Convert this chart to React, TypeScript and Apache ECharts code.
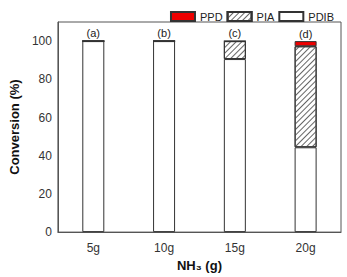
import React, { useEffect, useRef } from "react";
import * as echarts from "echarts";

const categories = ["5g", "10g", "15g", "20g"];
const pdib = [100, 100, 90.6, 44.4];
const pia = [0, 0, 9.4, 52.9];
const ppd = [0, 0, 0, 2.7];
const letters = ["(a)", "(b)", "(c)", "(d)"];

export default function App() {
  const ref = useRef<HTMLDivElement>(null);
  useEffect(() => {
    document.body.style.margin = "0";
    const chart = echarts.init(ref.current!, null, { renderer: "svg" });
    const font = "Liberation Sans, Arial, sans-serif";
    const hatch = {
      symbol: "rect",
      symbolSize: 1,
      dashArrayX: [1, 0],
      dashArrayY: [1, 3],
      rotation: -Math.PI / 4,
      color: "#666",
      backgroundColor: "#fff",
    };
    chart.setOption({
      animation: false,
      textStyle: { fontFamily: font },
      legend: {
        data: ["PPD", "PIA", "PDIB"],
        icon: "rect",
        right: 8,
        top: 6,
        itemWidth: 24,
        itemHeight: 9,
        itemGap: 4,
        textStyle: { fontSize: 11, color: "#222", fontFamily: font },
      },
      grid: {
        left: 44,
        right: 6,
        top: 22,
        bottom: 38,
        show: true,
        borderColor: "#555",
        borderWidth: 1,
      },
      xAxis: {
        type: "category",
        data: categories,
        name: "NH\u2083 (g)",
        nameLocation: "middle",
        nameGap: 24,
        nameTextStyle: { fontWeight: "bold", fontSize: 13, color: "#111", fontFamily: font },
        axisLine: { lineStyle: { color: "#555" } },
        axisTick: { inside: true, length: 3, lineStyle: { color: "#555" } },
        axisLabel: { fontSize: 12, color: "#333", margin: 10 },
      },
      yAxis: [
        {
          type: "value",
          min: 0,
          max: 110,
          interval: 20,
          name: "Conversion (%)",
          nameLocation: "middle",
          nameGap: 34,
          nameTextStyle: { fontWeight: "bold", fontSize: 13, color: "#111", fontFamily: font },
          splitLine: { show: false },
          axisLine: { show: true, lineStyle: { color: "#555" } },
          axisTick: { inside: true, length: 5, lineStyle: { color: "#555" } },
          axisLabel: {
            fontSize: 12,
            color: "#333",
            margin: 6,
            formatter: (v: number) => (v > 100 ? "" : String(v)),
          },
        },
        {
          type: "value",
          min: 0,
          max: 110,
          interval: 10,
          position: "left",
          splitLine: { show: false },
          axisLine: { show: false },
          axisTick: { inside: true, length: 3, lineStyle: { color: "#555" } },
          axisLabel: { show: false },
        },
      ],
      series: [
        {
          name: "PDIB",
          type: "bar",
          stack: "s",
          barWidth: 22,
          data: pdib,
          itemStyle: { color: "#fff", borderColor: "#333", borderWidth: 1 },
        },
        {
          name: "PIA",
          type: "bar",
          stack: "s",
          barWidth: 22,
          data: pia,
          itemStyle: { color: "#fff", borderColor: "#333", borderWidth: 1, decal: hatch },
        },
        {
          name: "PPD",
          type: "bar",
          stack: "s",
          barWidth: 22,
          data: ppd,
          itemStyle: { color: "#ee0000", borderColor: "#333", borderWidth: 1 },
          label: {
            show: true,
            position: "top",
            distance: 2,
            fontSize: 11,
            color: "#222",
            formatter: (p: any) => letters[p.dataIndex],
          },
        },
      ],
    });
    return () => chart.dispose();
  }, []);
  return <div ref={ref} style={{ width: 347, height: 277 }} />;
}
